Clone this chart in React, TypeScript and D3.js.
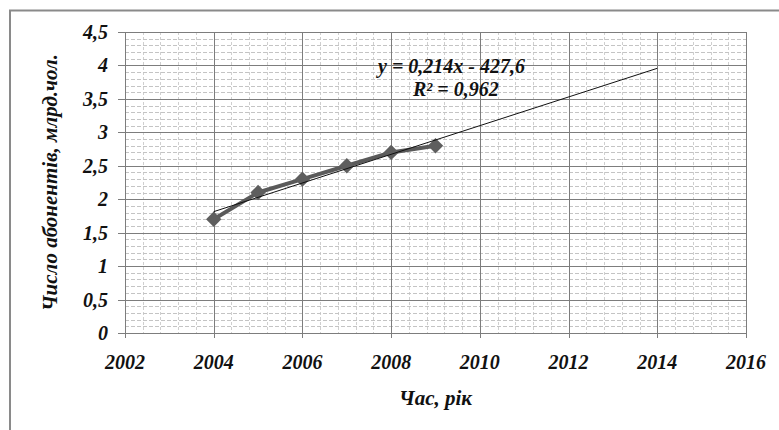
import { useEffect, useRef } from "react";
import * as d3 from "d3";

const years = [2004, 2005, 2006, 2007, 2008, 2009];
const subscribers = [1.7, 2.1, 2.3, 2.5, 2.7, 2.8];
const xTicks = [2002, 2004, 2006, 2008, 2010, 2012, 2014, 2016];
const yTicks = [0, 0.5, 1, 1.5, 2, 2.5, 3, 3.5, 4, 4.5];
const trendText = ["y = 0,214x - 427,6", "R² = 0,962"];
const trendEnd = 2014;

export default function App() {
  const svgRef = useRef<SVGSVGElement>(null);

  useEffect(() => {
    const width = 779;
    const height = 430;
    const margin = { top: 32, right: 33, bottom: 97, left: 125 };
    const w = width - margin.left - margin.right;
    const h = height - margin.top - margin.bottom;
    const font = "'Liberation Serif', 'Times New Roman', Tinos, 'DejaVu Serif', serif";

    const svg = d3.select(svgRef.current);
    svg.selectAll("*").remove();
    svg.attr("width", width).attr("height", height);

    svg.append("rect").attr("width", width).attr("height", height).attr("fill", "#fff");

    // outer chart border
    svg
      .append("path")
      .attr("d", `M10,${height + 5}V10.5H${width + 5}`)
      .attr("fill", "none")
      .attr("stroke", "#8a8a8a")
      .attr("stroke-width", 2);

    const x = d3.scaleLinear().domain([2002, 2016]).range([0, w]);
    const y = d3.scaleLinear().domain([0, 4.5]).range([h, 0]);

    const g = svg.append("g").attr("transform", `translate(${margin.left},${margin.top})`);

    // minor grid
    const minorX = d3.range(2002, 2016.001, 0.4).filter((v) => Math.abs((v - 2002) % 2) > 0.01 && Math.abs(((v - 2002) % 2) - 2) > 0.01);
    const minorY = d3.range(0, 4.501, 0.1).filter((v) => Math.abs((v * 10) % 5) > 0.01);
    g.selectAll(".mx")
      .data(minorX)
      .enter()
      .append("line")
      .attr("x1", (d) => Math.round(x(d)) + 0.5)
      .attr("x2", (d) => Math.round(x(d)) + 0.5)
      .attr("y1", 0)
      .attr("y2", h)
      .attr("stroke", "#cfcfcf")
      .attr("stroke-dasharray", "3,2");
    g.selectAll(".my")
      .data(minorY)
      .enter()
      .append("line")
      .attr("x1", 0)
      .attr("x2", w)
      .attr("y1", (d) => Math.round(y(d)) + 0.5)
      .attr("y2", (d) => Math.round(y(d)) + 0.5)
      .attr("stroke", "#c4c4c4")
      .attr("stroke-dasharray", "4,2");

    // major grid
    g.selectAll(".gx")
      .data(xTicks)
      .enter()
      .append("line")
      .attr("x1", (d) => Math.round(x(d)) + 0.5)
      .attr("x2", (d) => Math.round(x(d)) + 0.5)
      .attr("y1", 0)
      .attr("y2", h + 5)
      .attr("stroke", "#7d7d7d");
    g.selectAll(".gy")
      .data(yTicks)
      .enter()
      .append("line")
      .attr("x1", -7)
      .attr("x2", w)
      .attr("y1", (d) => Math.round(y(d)) + 0.5)
      .attr("y2", (d) => Math.round(y(d)) + 0.5)
      .attr("stroke", "#7d7d7d");

    const styleText = (sel: any, size: number) =>
      sel
        .style("font-family", font)
        .style("font-size", `${size}px`)
        .style("font-weight", "bold")
        .style("font-style", "italic")
        .attr("fill", "#111");

    // tick labels
    g.selectAll(".yl")
      .data(yTicks)
      .enter()
      .append("text")
      .attr("x", -17)
      .attr("y", (d) => y(d) + 7)
      .attr("text-anchor", "end")
      .call(styleText, 20)
      .text((d) => d3.format("")(d).replace(".", ","));
    g.selectAll(".xl")
      .data(xTicks)
      .enter()
      .append("text")
      .attr("x", (d) => x(d))
      .attr("y", h + 36)
      .attr("text-anchor", "middle")
      .call(styleText, 20)
      .text((d) => d);

    // data series
    const line = d3
      .line<number>()
      .x((_, i) => x(years[i]))
      .y((d) => y(d));
    g.append("path")
      .datum(subscribers)
      .attr("d", line)
      .attr("fill", "none")
      .attr("stroke", "#5a5a5a")
      .attr("stroke-width", 4)
      .attr("stroke-linejoin", "round");
    g.selectAll(".pt")
      .data(subscribers)
      .enter()
      .append("path")
      .attr("d", d3.symbol(d3.symbolDiamond2, 150)())
      .attr("transform", (d, i) => `translate(${x(years[i])},${y(d)})`)
      .attr("fill", "#5e5e5e");

    // linear trend (least squares)
    const mx = d3.mean(years) as number;
    const my = d3.mean(subscribers) as number;
    const slope =
      d3.sum(years, (v, i) => (v - mx) * (subscribers[i] - my)) / d3.sum(years, (v) => (v - mx) ** 2);
    const at = (v: number) => my + slope * (v - mx);
    g.append("line")
      .attr("x1", x(years[0]))
      .attr("y1", y(at(years[0])))
      .attr("x2", x(trendEnd))
      .attr("y2", y(at(trendEnd)))
      .attr("stroke", "#111")
      .attr("stroke-width", 1);

    // equation
    g.append("text").attr("x", 253).attr("y", 41).call(styleText, 20).text(trendText[0]);
    g.append("text").attr("x", 288).attr("y", 64).call(styleText, 20).text(trendText[1]);

    // axis titles
    svg
      .append("text")
      .attr("x", margin.left + w / 2)
      .attr("y", 405)
      .attr("text-anchor", "middle")
      .call(styleText, 21)
      .text("Час, рік");
    svg
      .append("text")
      .attr("transform", `translate(57,${margin.top + h / 2}) rotate(-90)`)
      .attr("text-anchor", "middle")
      .call(styleText, 21)
      .text("Число абонентів, млрд.чол.");
  }, []);

  return <svg ref={svgRef} style={{ position: "absolute", left: 0, top: 0 }}></svg>;
}
